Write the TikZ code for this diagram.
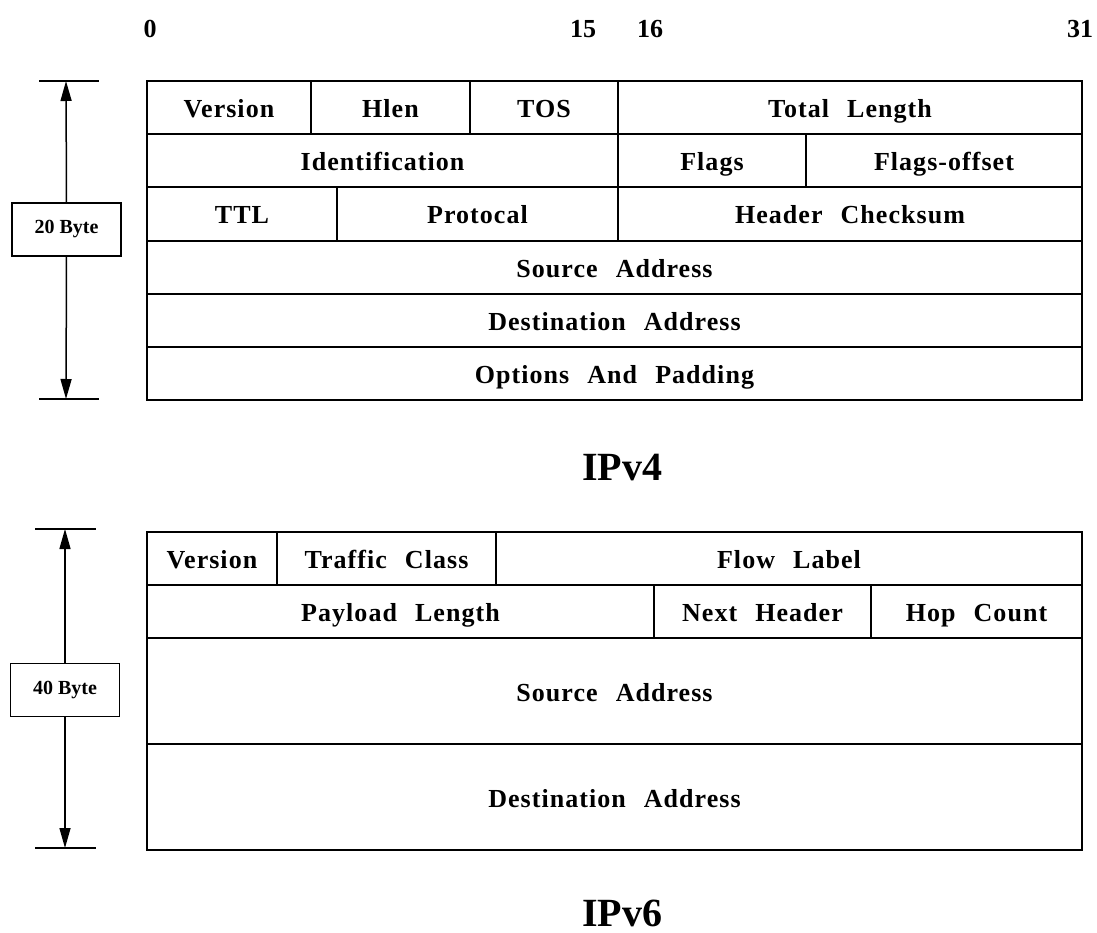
\documentclass[tikz,border=0pt]{standalone}
\usepackage{fontspec}
\setmainfont{Liberation Serif}
\newfontfamily\cellfont{Liberation Serif}[LetterSpace=4, WordSpace=2.4]
\usetikzlibrary{arrows.meta}
\newcommand\cellbox[6]{\node[cell, minimum width={(#4-#2)*1pt}, minimum height={(#5-#3)*1pt}] (#1) at ({(#2+#4)/2},{(#3+#5)/2}) {#6};}
\begin{document}
\begin{tikzpicture}[x=1pt,y=-1pt,
  cell/.style={draw, line width=1.5pt, inner sep=0pt, outer sep=0pt, text height=22pt, text depth=2pt, font=\cellfont\fontsize{26}{30}\selectfont\bfseries},
  bytebox/.style={draw, line width=1.3pt, inner sep=0pt, outer sep=0pt, minimum width=109pt, minimum height=53pt, font=\fontsize{20}{24}\selectfont\bfseries},
  dimline/.style={line width=1.5pt, -{Triangle[length=20pt,width=11pt]}},
  tick/.style={line width=1.5pt},
  bitnum/.style={anchor=base, inner sep=0pt, font=\fontsize{26}{30}\selectfont\bfseries},
  title/.style={anchor=base, inner sep=0pt, font=\fontsize{40}{44}\selectfont\bfseries}]
\useasboundingbox (0,0) rectangle (1097,933);
% bit numbers
\node[bitnum] (b0) at (150,38) {0};
\node[bitnum] (b15) at (583,38) {15};
\node[bitnum] (b16) at (650,38) {16};
\node[bitnum] (b31) at (1080,38) {31};
% IPv4 header
\cellbox{v4ver}{147}{81}{311}{134}{Version}
\cellbox{v4hlen}{311}{81}{470}{134}{Hlen}
\cellbox{v4tos}{470}{81}{618}{134}{TOS}
\cellbox{v4tot}{618}{81}{1082}{134}{Total Length}
\cellbox{v4id}{147}{134}{618}{187}{Identification}
\cellbox{v4flags}{618}{134}{806}{187}{Flags}
\cellbox{v4foff}{806}{134}{1082}{187}{Flags-offset}
\cellbox{v4ttl}{147}{187}{337}{241}{TTL}
\cellbox{v4proto}{337}{187}{618}{241}{Protocal}
\cellbox{v4chk}{618}{187}{1082}{241}{Header Checksum}
\cellbox{v4src}{147}{241}{1082}{294}{Source Address}
\cellbox{v4dst}{147}{294}{1082}{347}{Destination Address}
\cellbox{v4opt}{147}{347}{1082}{400}{Options And Padding}
% IPv4 size
\node[bytebox] (by4) at (66.5,229.5) {20 Byte};
\coordinate (a4top) at (66,81);
\coordinate (a4bot) at (66,399);
\draw[tick] (39,81) -- (99,81);
\draw[tick] (39,399) -- (99,399);
\draw[dimline] (by4.north) -- (a4top);
\draw[dimline] (by4.south) -- (a4bot);
\node[title] (t4) at (622,480) {IPv4};
% IPv6 header
\cellbox{v6ver}{147}{532}{277}{585}{Version}
\cellbox{v6tc}{277}{532}{496}{585}{Traffic Class}
\cellbox{v6fl}{496}{532}{1082}{585}{Flow Label}
\cellbox{v6pl}{147}{585}{654}{638}{Payload Length}
\cellbox{v6nh}{654}{585}{871}{638}{Next Header}
\cellbox{v6hop}{871}{585}{1082}{638}{Hop Count}
\cellbox{v6src}{147}{638}{1082}{744}{Source Address}
\cellbox{v6dst}{147}{744}{1082}{850}{Destination Address}
% IPv6 size
\node[bytebox] (by6) at (65,690) {40 Byte};
\coordinate (a6top) at (65,529);
\coordinate (a6bot) at (65,848);
\draw[tick] (35,529) -- (96,529);
\draw[tick] (35,848) -- (96,848);
\draw[dimline] (by6.north) -- (a6top);
\draw[dimline] (by6.south) -- (a6bot);
\node[title] (t6) at (622,926) {IPv6};
\end{tikzpicture}
\end{document}
